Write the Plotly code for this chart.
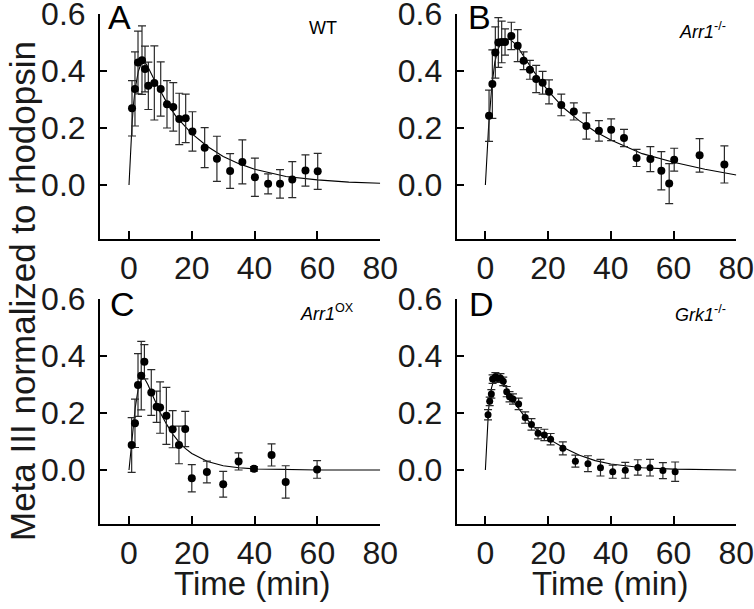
import plotly.graph_objects as go

W, H = 754, 609

# ---------------- data ----------------
# Panel A: WT
A_t = [0.96, 1.9, 2.87, 4.14, 5.1, 6.16, 8.07, 10.1, 12.1, 14.1, 16.0, 18.05, 20.2,
       24.1, 28.0, 32.2, 36.1, 40.1, 44.3, 48.1, 52.0, 56.2, 60.1]
A_v = [0.269, 0.337, 0.43, 0.438, 0.407, 0.348, 0.358, 0.337, 0.283, 0.274, 0.232, 0.234, 0.188,
       0.131, 0.092, 0.049, 0.081, 0.027, 0.004, 0.004, 0.019, 0.051, 0.048]
A_e = [0.097, 0.13, 0.11, 0.12, 0.08, 0.083, 0.13, 0.095, 0.083, 0.085, 0.09, 0.085, 0.069,
       0.07, 0.079, 0.061, 0.077, 0.067, 0.035, 0.05, 0.063, 0.055, 0.063]
A_fit_t = [0, 0.5, 1, 1.5, 2, 3, 4, 5, 6, 8, 10, 12, 15, 20, 25, 30, 35, 40, 50, 60, 70, 80]
A_fit_v = [0, 0.12, 0.22, 0.29, 0.34, 0.40, 0.43, 0.432, 0.415, 0.37, 0.33, 0.29, 0.24, 0.18,
           0.135, 0.10, 0.075, 0.055, 0.03, 0.018, 0.01, 0.006]

# Panel B: Arr1-/-
B_t = [1.17, 2.23, 3.18, 4.14, 5.2, 6.27, 8.28, 10.3, 12.2, 14.2, 16.2, 18.25, 20.3,
       24.2, 28.2, 32.2, 36.2, 40.1, 44.2, 48.2, 52.6, 56.1, 58.6, 60.2, 68.3, 76.2]
B_v = [0.243, 0.354, 0.465, 0.50, 0.502, 0.502, 0.523, 0.489, 0.436, 0.404, 0.372, 0.359, 0.327,
       0.281, 0.258, 0.207, 0.19, 0.194, 0.165, 0.095, 0.091, 0.05, 0.005, 0.089, 0.104, 0.072]
B_e = [0.09, 0.12, 0.09, 0.087, 0.073, 0.046, 0.048, 0.056, 0.031, 0.033, 0.048, 0.04, 0.042,
       0.038, 0.03, 0.046, 0.036, 0.038, 0.03, 0.03, 0.044, 0.067, 0.07, 0.04, 0.059, 0.065]
B_fit_t = [0, 1, 2, 3, 4, 5, 6, 7, 8, 10, 12, 15, 20, 25, 30, 35, 40, 50, 60, 70, 80]
B_fit_v = [0, 0.2, 0.34, 0.43, 0.475, 0.50, 0.51, 0.512, 0.51, 0.49, 0.455, 0.405, 0.33, 0.27,
           0.225, 0.188, 0.158, 0.11, 0.08, 0.055, 0.035]

# Panel C: Arr1ox
C_t = [0.85, 1.9, 2.87, 3.9, 4.9, 7.1, 8.8, 9.9, 11.9, 13.9, 15.9, 17.9, 20.0,
       24.8, 30.0, 34.9, 39.8, 45.4, 49.9, 59.9]
C_v = [0.088, 0.164, 0.298, 0.331, 0.38, 0.272, 0.222, 0.219, 0.19, 0.143, 0.088, 0.144, -0.029,
       -0.007, -0.05, 0.03, 0.004, 0.053, -0.042, 0.002]
C_e = [0.096, 0.085, 0.11, 0.12, 0.06, 0.08, 0.055, 0.09, 0.1, 0.065, 0.066, 0.062, 0.048,
       0.038, 0.045, 0.03, 0.008, 0.039, 0.057, 0.031]
C_fit_t = [0, 1, 2, 3, 4, 5, 6, 8, 10, 12, 14, 16, 18, 20, 25, 30, 35, 40, 50, 60, 80]
C_fit_v = [0, 0.1, 0.22, 0.29, 0.32, 0.32, 0.30, 0.25, 0.20, 0.16, 0.125, 0.097, 0.075, 0.058,
           0.03, 0.015, 0.008, 0.004, 0.001, 0.0, 0.0]

# Panel D: Grk1-/-
D_t = [0.85, 1.38, 1.9, 2.3, 3.2, 3.9, 4.8, 5.7, 6.8, 7.7, 8.8, 10.6, 12.7, 14.7, 16.8, 18.8,
       20.8, 24.7, 28.7, 32.7, 36.7, 40.6, 44.6, 48.6, 52.5, 56.6, 60.5]
D_v = [0.194, 0.241, 0.267, 0.319, 0.327, 0.322, 0.323, 0.311, 0.275, 0.257, 0.249, 0.232, 0.184,
       0.16, 0.129, 0.123, 0.108, 0.076, 0.031, 0.022, 0.008, -0.006, -0.001, 0.009, 0.008,
       -0.002, -0.006]
D_e = [0.018, 0.015, 0.015, 0.015, 0.015, 0.015, 0.015, 0.015, 0.018, 0.018, 0.018, 0.02, 0.02,
       0.02, 0.02, 0.02, 0.02, 0.023, 0.021, 0.028, 0.029, 0.023, 0.028, 0.027, 0.029, 0.028,
       0.034]
D_fit_t = [0, 0.5, 1, 1.5, 2, 3, 4, 5, 6, 8, 10, 12, 15, 20, 25, 30, 35, 40, 50, 60, 70, 80]
D_fit_v = [0, 0.13, 0.21, 0.26, 0.29, 0.325, 0.33, 0.32, 0.30, 0.26, 0.225, 0.195, 0.155, 0.11,
           0.078, 0.052, 0.033, 0.021, 0.008, 0.003, 0.001, 0.0]

x_ticks = [0, 20, 40, 60, 80]
y_ticks = [0.0, 0.2, 0.4, 0.6]
panel_letters = ["A", "B", "C", "D"]
panel_names = ["WT", "<i>Arr1</i><sup>-/-</sup>", "<i>Arr1</i><sup>OX</sup>",
               "<i>Grk1</i><sup>-/-</sup>"]
x_title = "Time (min)"
y_title = "Meta III normalized to rhodopsin"

# ---------------- layout helpers ----------------
def px(x):
    return x / W

def py(y):
    return 1 - y / H

FONT = "Liberation Sans, Arial, sans-serif"
TICKFONT = dict(family=FONT, size=32, color="#1a1a1a")
Y_MAX = 0.6
PX_PER_UNIT_Y = 285.0   # vertical pixels per unit
PX_PER_MIN = 3.14       # horizontal pixels per minute

# columns: (y-axis line x, x pixel of t=0, x pixel of t=80)
cols = [(100, 129, 380.2), (456.7, 485.4, 736.3)]
# rows: (y pixel of 0.6, x-axis line y)
rows = [(14, 239), (299, 524)]

panels = [
    (A_t, A_v, A_e, A_fit_t, A_fit_v, 0, 0, 8),
    (B_t, B_v, B_e, B_fit_t, B_fit_v, 1, 0, 8),
    (C_t, C_v, C_e, C_fit_t, C_fit_v, 0, 1, 8),
    (D_t, D_v, D_e, D_fit_t, D_fit_v, 1, 1, 7),
]

fig = go.Figure()
layout = dict(
    template="none",
    width=W, height=H, margin=dict(l=0, r=0, t=0, b=0, pad=0), autosize=False,
    paper_bgcolor="white", plot_bgcolor="rgba(0,0,0,0)", showlegend=False,
)

for i, (t, v, e, ft, fv, c, r, msize) in enumerate(panels):
    n = "" if i == 0 else str(i + 1)
    xa, ya = "x" + n, "y" + n
    yline_x, x0px, x80px = cols[c]
    ytop, xline_y = rows[r]
    x_min = -(x0px - yline_x) / PX_PER_MIN
    y_min = Y_MAX - (xline_y - ytop) / PX_PER_UNIT_Y

    fig.add_trace(go.Scatter(x=ft, y=fv, mode="lines", xaxis=xa, yaxis=ya,
                             line=dict(color="black", width=1.1), hoverinfo="skip"))
    fig.add_trace(go.Scatter(x=t, y=v, mode="markers", xaxis=xa, yaxis=ya,
                             marker=dict(color="black", size=msize, line=dict(width=0)),
                             error_y=dict(type="data", array=e, visible=True,
                                          color="#2a2a2a", thickness=1.2, width=4)))
    layout["xaxis" + n] = dict(
        domain=[px(yline_x), px(x80px)], range=[x_min, 80],
        anchor=ya, automargin=False,
        showline=True, linecolor="black", linewidth=2,
        ticks="inside", ticklen=8, tickwidth=2, tickcolor="black",
        tickvals=x_ticks, ticktext=[str(k) for k in x_ticks],
        tickfont=TICKFONT, showgrid=False, zeroline=False,
        ticklabelstandoff=0, ticklabeloverflow="allow",
    )
    layout["yaxis" + n] = dict(
        domain=[py(xline_y), py(ytop)], range=[y_min, Y_MAX],
        anchor=xa, automargin=False,
        showline=True, linecolor="black", linewidth=2,
        ticks="inside", ticklen=7, tickwidth=2, tickcolor="black",
        tickvals=y_ticks, ticktext=["%.1f" % k for k in y_ticks],
        tickfont=TICKFONT, showgrid=False, zeroline=False,
        ticklabelstandoff=6, ticklabeloverflow="allow",
    )

annotations = []
letter_pos = [(106, 17), (466, 17), (108, 304), (467, 304)]
name_pos = [(339, 28), (728, 30), (356, 312), (728, 313)]
for k in range(4):
    lx, ly = letter_pos[k]
    annotations.append(dict(text=panel_letters[k], x=px(lx), y=py(ly), xref="paper", yref="paper",
                            xanchor="left", yanchor="middle", showarrow=False,
                            font=dict(family=FONT, size=34, color="black")))
    nx, ny = name_pos[k]
    annotations.append(dict(text=panel_names[k], x=px(nx), y=py(ny), xref="paper", yref="paper",
                            xanchor="right", yanchor="middle", showarrow=False,
                            font=dict(family=FONT, size=18, color="black")))
for cx in (252, 610):
    annotations.append(dict(text=x_title, x=px(cx), y=py(583), xref="paper", yref="paper",
                            xanchor="center", yanchor="middle", showarrow=False,
                            font=dict(family=FONT, size=33, color="#1a1a1a")))
annotations.append(dict(text=y_title, x=px(22), y=py(291), xref="paper", yref="paper",
                        xanchor="center", yanchor="middle", showarrow=False, textangle=-90,
                        font=dict(family=FONT, size=35, color="#1a1a1a")))
layout["annotations"] = annotations
fig.update_layout(**layout)
fig.write_html("out.html", config={"displayModeBar": False, "staticPlot": True},
               post_script="document.body.style.margin='0px';document.body.style.overflow='hidden';")
